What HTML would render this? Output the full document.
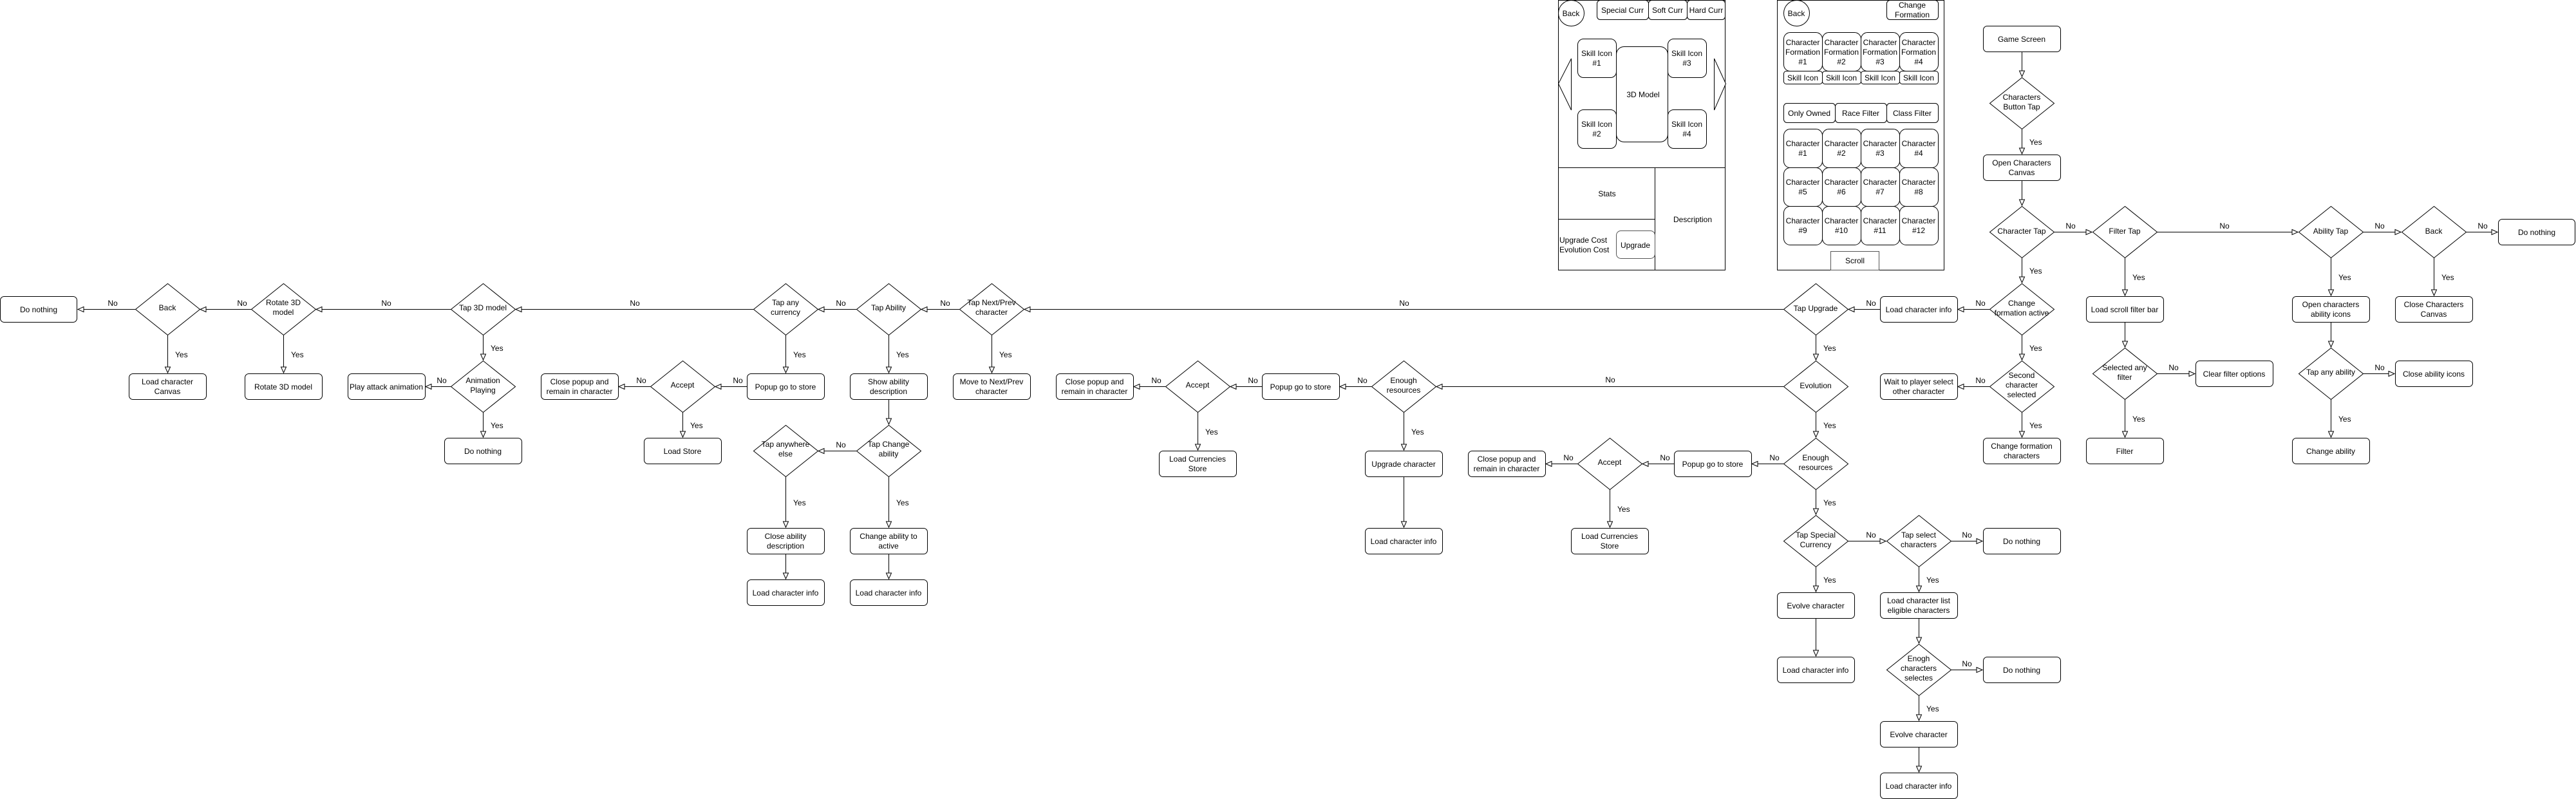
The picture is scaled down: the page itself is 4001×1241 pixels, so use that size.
<!DOCTYPE html>
<html><head><meta charset="utf-8"><style>
html,body{margin:0;padding:0;background:#fff;}
svg{display:block;}
text{font-family:"Liberation Sans",Arial,sans-serif;font-size:12px;fill:#000;text-anchor:middle;}
.l{text-anchor:start;}
.b{fill:#fff;stroke:#000;stroke-width:1;}
.d{fill:#fff;stroke:#000;stroke-width:1;}
.c{stroke:#000;stroke-width:1;fill:none;}
.ca{stroke:#000;stroke-width:1;fill:none;marker-end:url(#a);}
</style></head><body>
<svg width="4001" height="1241" viewBox="0 0 4001 1241" xmlns="http://www.w3.org/2000/svg">
<defs><marker id="a" markerWidth="12" markerHeight="12" refX="10" refY="5" orient="auto" markerUnits="userSpaceOnUse"><path d="M1,1 L10,5 L1,9 Z" fill="#fff" stroke="#000" stroke-width="1"/></marker></defs>
<rect width="4001" height="1241" fill="#fff"/>

<!-- LEFT MOCKUP -->
<g>
<rect x="2420.5" y="0.5" width="259" height="419" fill="#fff" stroke="#000"/>
<circle cx="2440.5" cy="20.5" r="20" class="b"/><text x="2440" y="25">Back</text>
<rect x="2480.5" y="0.5" width="80" height="30" rx="5" class="b"/><text x="2520" y="20">Special Curr</text>
<rect x="2560.5" y="0.5" width="60" height="30" rx="5" class="b"/><text x="2590" y="20">Soft Curr</text>
<rect x="2620.5" y="0.5" width="59" height="30" rx="5" class="b"/><text x="2650" y="20">Hard Curr</text>
<rect x="2450.5" y="60.5" width="60" height="60" rx="9" class="b"/><text x="2480" y="87">Skill Icon</text><text x="2480" y="102">#1</text>
<rect x="2450.5" y="170.5" width="60" height="60" rx="9" class="b"/><text x="2480" y="197">Skill Icon</text><text x="2480" y="212">#2</text>
<rect x="2510.5" y="72.5" width="80" height="148" rx="12" class="b"/><text x="2552" y="151">3D Model</text>
<rect x="2590.5" y="60.5" width="60" height="60" rx="9" class="b"/><text x="2620" y="87">Skill Icon</text><text x="2620" y="102">#3</text>
<rect x="2590.5" y="170.5" width="60" height="60" rx="9" class="b"/><text x="2620" y="197">Skill Icon</text><text x="2620" y="212">#4</text>
<path d="M2440.5,91 L2420.5,130 L2440.5,171 Z" class="b"/>
<path d="M2662.5,91 L2680.5,130 L2662.5,171 Z" class="b"/>
<line x1="2420" y1="260.5" x2="2680" y2="260.5" class="c"/>
<line x1="2570.5" y1="260" x2="2570.5" y2="420" class="c"/>
<line x1="2420" y1="340.5" x2="2570" y2="340.5" class="c"/>
<text x="2496" y="305">Stats</text>
<text x="2629" y="345">Description</text>
<text x="2422" y="377" class="l">Upgrade Cost</text>
<text x="2422" y="392" class="l">Evolution Cost</text>
<rect x="2510.5" y="358.5" width="60" height="43" rx="7" fill="#fff" stroke="#555"/><text x="2540" y="385">Upgrade</text>
</g>

<!-- RIGHT MOCKUP -->
<g>
<rect x="2760.5" y="0.5" width="259" height="419" fill="#fff" stroke="#000"/>
<circle cx="2790.5" cy="20.5" r="20" class="b"/><text x="2790" y="25">Back</text>
<rect x="2930.5" y="0.5" width="80" height="30" rx="5" class="b"/><text x="2970" y="12">Change</text><text x="2970" y="27">Formation</text>
<rect x="2770.5" y="50.5" width="60" height="60" rx="10" class="b"/><text x="2800" y="70">Character</text><text x="2800" y="85">Formation</text><text x="2800" y="100">#1</text>
<rect x="2830.5" y="50.5" width="60" height="60" rx="10" class="b"/><text x="2860" y="70">Character</text><text x="2860" y="85">Formation</text><text x="2860" y="100">#2</text>
<rect x="2890.5" y="50.5" width="60" height="60" rx="10" class="b"/><text x="2920" y="70">Character</text><text x="2920" y="85">Formation</text><text x="2920" y="100">#3</text>
<rect x="2950.5" y="50.5" width="60" height="60" rx="10" class="b"/><text x="2980" y="70">Character</text><text x="2980" y="85">Formation</text><text x="2980" y="100">#4</text>
<rect x="2770.5" y="110.5" width="60" height="20" rx="4" class="b"/><text x="2800" y="125">Skill Icon</text>
<rect x="2830.5" y="110.5" width="60" height="20" rx="4" class="b"/><text x="2860" y="125">Skill Icon</text>
<rect x="2890.5" y="110.5" width="60" height="20" rx="4" class="b"/><text x="2920" y="125">Skill Icon</text>
<rect x="2950.5" y="110.5" width="60" height="20" rx="4" class="b"/><text x="2980" y="125">Skill Icon</text>
<rect x="2770.5" y="160.5" width="80" height="30" rx="5" class="b"/><text x="2810" y="180">Only Owned</text>
<rect x="2850.5" y="160.5" width="80" height="30" rx="5" class="b"/><text x="2890" y="180">Race Filter</text>
<rect x="2930.5" y="160.5" width="80" height="30" rx="5" class="b"/><text x="2970" y="180">Class Filter</text>
<rect x="2770.5" y="200.5" width="60" height="60" rx="10" class="b"/><text x="2800" y="227">Character</text><text x="2800" y="242">#1</text>
<rect x="2830.5" y="200.5" width="60" height="60" rx="10" class="b"/><text x="2860" y="227">Character</text><text x="2860" y="242">#2</text>
<rect x="2890.5" y="200.5" width="60" height="60" rx="10" class="b"/><text x="2920" y="227">Character</text><text x="2920" y="242">#3</text>
<rect x="2950.5" y="200.5" width="60" height="60" rx="10" class="b"/><text x="2980" y="227">Character</text><text x="2980" y="242">#4</text>
<rect x="2770.5" y="260.5" width="60" height="60" rx="10" class="b"/><text x="2800" y="287">Character</text><text x="2800" y="302">#5</text>
<rect x="2830.5" y="260.5" width="60" height="60" rx="10" class="b"/><text x="2860" y="287">Character</text><text x="2860" y="302">#6</text>
<rect x="2890.5" y="260.5" width="60" height="60" rx="10" class="b"/><text x="2920" y="287">Character</text><text x="2920" y="302">#7</text>
<rect x="2950.5" y="260.5" width="60" height="60" rx="10" class="b"/><text x="2980" y="287">Character</text><text x="2980" y="302">#8</text>
<rect x="2770.5" y="320.5" width="60" height="60" rx="10" class="b"/><text x="2800" y="347">Character</text><text x="2800" y="362">#9</text>
<rect x="2830.5" y="320.5" width="60" height="60" rx="10" class="b"/><text x="2860" y="347">Character</text><text x="2860" y="362">#10</text>
<rect x="2890.5" y="320.5" width="60" height="60" rx="10" class="b"/><text x="2920" y="347">Character</text><text x="2920" y="362">#11</text>
<rect x="2950.5" y="320.5" width="60" height="60" rx="10" class="b"/><text x="2980" y="347">Character</text><text x="2980" y="362">#12</text>
<rect x="2843.5" y="390.5" width="75" height="29" fill="#fff" stroke="#555"/><text x="2881" y="409">Scroll</text>
</g>

<!-- CONNECTORS -->
<g>
<!-- main row y480 leftwards -->
<line x1="3090" y1="480.5" x2="3041" y2="480.5" class="ca"/>
<line x1="2920" y1="480.5" x2="2871" y2="480.5" class="ca"/>
<line x1="2770" y1="480.5" x2="1591" y2="480.5" class="ca"/>
<line x1="1490" y1="480.5" x2="1431" y2="480.5" class="ca"/>
<line x1="1330" y1="480.5" x2="1271" y2="480.5" class="ca"/>
<line x1="1170" y1="480.5" x2="801" y2="480.5" class="ca"/>
<line x1="700" y1="480.5" x2="491" y2="480.5" class="ca"/>
<line x1="390" y1="480.5" x2="311" y2="480.5" class="ca"/>
<line x1="210" y1="480.5" x2="121" y2="480.5" class="ca"/>
<!-- y600 -->
<line x1="2770" y1="600.5" x2="2231" y2="600.5" class="ca"/>
<line x1="2130" y1="600.5" x2="2081" y2="600.5" class="ca"/>
<line x1="1960" y1="600.5" x2="1911" y2="600.5" class="ca"/>
<line x1="1810" y1="600.5" x2="1761" y2="600.5" class="ca"/>
<line x1="1160" y1="600.5" x2="1111" y2="600.5" class="ca"/>
<line x1="1010" y1="600.5" x2="961" y2="600.5" class="ca"/>
<line x1="700" y1="600.5" x2="661" y2="600.5" class="ca"/>
<line x1="3090" y1="600.5" x2="3041" y2="600.5" class="ca"/>
<!-- y700 / 720 -->
<line x1="1330" y1="700.5" x2="1271" y2="700.5" class="ca"/>
<line x1="2770" y1="720.5" x2="2721" y2="720.5" class="ca"/>
<line x1="2600" y1="720.5" x2="2551" y2="720.5" class="ca"/>
<line x1="2450" y1="720.5" x2="2401" y2="720.5" class="ca"/>
<!-- rightwards -->
<line x1="2870" y1="840.5" x2="2929" y2="840.5" class="ca"/>
<line x1="3030" y1="840.5" x2="3079" y2="840.5" class="ca"/>
<line x1="3030" y1="1040.5" x2="3079" y2="1040.5" class="ca"/>
<line x1="3190" y1="360.5" x2="3249" y2="360.5" class="ca"/>
<line x1="3350" y1="360.5" x2="3569" y2="360.5" class="ca"/>
<line x1="3670" y1="360.5" x2="3729" y2="360.5" class="ca"/>
<line x1="3830" y1="360.5" x2="3879" y2="360.5" class="ca"/>
<line x1="3350" y1="580.5" x2="3409" y2="580.5" class="ca"/>
<line x1="3670" y1="580.5" x2="3719" y2="580.5" class="ca"/>
<!-- verticals -->
<line x1="260.5" y1="520" x2="260.5" y2="579" class="ca"/>
<line x1="440.5" y1="520" x2="440.5" y2="579" class="ca"/>
<line x1="750.5" y1="520" x2="750.5" y2="559" class="ca"/>
<line x1="750.5" y1="640" x2="750.5" y2="679" class="ca"/>
<line x1="1060.5" y1="640" x2="1060.5" y2="679" class="ca"/>
<line x1="1220.5" y1="520" x2="1220.5" y2="579" class="ca"/>
<line x1="1380.5" y1="520" x2="1380.5" y2="579" class="ca"/>
<line x1="1540.5" y1="520" x2="1540.5" y2="579" class="ca"/>
<line x1="1380.5" y1="620" x2="1380.5" y2="659" class="ca"/>
<line x1="1220.5" y1="740" x2="1220.5" y2="819" class="ca"/>
<line x1="1380.5" y1="740" x2="1380.5" y2="819" class="ca"/>
<line x1="1220.5" y1="860" x2="1220.5" y2="899" class="ca"/>
<line x1="1380.5" y1="860" x2="1380.5" y2="899" class="ca"/>
<line x1="1860.5" y1="640" x2="1860.5" y2="699" class="ca"/>
<line x1="2180.5" y1="640" x2="2180.5" y2="699" class="ca"/>
<line x1="2180.5" y1="740" x2="2180.5" y2="819" class="ca"/>
<line x1="2500.5" y1="760" x2="2500.5" y2="819" class="ca"/>
<line x1="2820.5" y1="520" x2="2820.5" y2="559" class="ca"/>
<line x1="2820.5" y1="640" x2="2820.5" y2="679" class="ca"/>
<line x1="2820.5" y1="760" x2="2820.5" y2="799" class="ca"/>
<line x1="2820.5" y1="880" x2="2820.5" y2="919" class="ca"/>
<line x1="2820.5" y1="960" x2="2820.5" y2="1019" class="ca"/>
<line x1="2980.5" y1="880" x2="2980.5" y2="919" class="ca"/>
<line x1="2980.5" y1="960" x2="2980.5" y2="999" class="ca"/>
<line x1="2980.5" y1="1080" x2="2980.5" y2="1119" class="ca"/>
<line x1="2980.5" y1="1160" x2="2980.5" y2="1199" class="ca"/>
<line x1="3140.5" y1="80" x2="3140.5" y2="119" class="ca"/>
<line x1="3140.5" y1="200" x2="3140.5" y2="239" class="ca"/>
<line x1="3140.5" y1="280" x2="3140.5" y2="319" class="ca"/>
<line x1="3140.5" y1="400" x2="3140.5" y2="439" class="ca"/>
<line x1="3140.5" y1="520" x2="3140.5" y2="559" class="ca"/>
<line x1="3140.5" y1="640" x2="3140.5" y2="679" class="ca"/>
<line x1="3300.5" y1="400" x2="3300.5" y2="459" class="ca"/>
<line x1="3300.5" y1="500" x2="3300.5" y2="539" class="ca"/>
<line x1="3300.5" y1="620" x2="3300.5" y2="679" class="ca"/>
<line x1="3620.5" y1="400" x2="3620.5" y2="459" class="ca"/>
<line x1="3620.5" y1="500" x2="3620.5" y2="539" class="ca"/>
<line x1="3620.5" y1="620" x2="3620.5" y2="679" class="ca"/>
<line x1="3780.5" y1="400" x2="3780.5" y2="459" class="ca"/>
</g>

<!-- CONNECTOR LABELS -->
<g>
<text x="175" y="475">No</text><text x="376" y="475">No</text><text x="600" y="475">No</text>
<text x="986" y="475">No</text><text x="1306" y="475">No</text><text x="1468" y="475">No</text>
<text x="2181" y="475">No</text><text x="2906" y="475">No</text><text x="3076" y="475">No</text>
<text x="686" y="595">No</text><text x="996" y="595">No</text><text x="1146" y="595">No</text>
<text x="1796" y="595">No</text><text x="1946" y="595">No</text><text x="2116" y="595">No</text>
<text x="2501" y="594">No</text><text x="3076" y="595">No</text>
<text x="1306" y="695">No</text>
<text x="2436" y="715">No</text><text x="2586" y="715">No</text><text x="2756" y="715">No</text>
<text x="2906" y="835">No</text><text x="3055" y="835">No</text><text x="3055" y="1035">No</text>
<text x="3216" y="355">No</text><text x="3455" y="355">No</text><text x="3696" y="355">No</text><text x="3856" y="355">No</text>
<text x="3376" y="575">No</text><text x="3696" y="575">No</text>

<text class="l" x="272" y="555">Yes</text><text class="l" x="452" y="555">Yes</text>
<text class="l" x="762" y="545">Yes</text><text class="l" x="762" y="665">Yes</text>
<text class="l" x="1072" y="665">Yes</text>
<text class="l" x="1232" y="555">Yes</text><text class="l" x="1392" y="555">Yes</text><text class="l" x="1552" y="555">Yes</text>
<text class="l" x="1232" y="785">Yes</text><text class="l" x="1392" y="785">Yes</text>
<text class="l" x="1872" y="675">Yes</text><text class="l" x="2192" y="675">Yes</text>
<text class="l" x="2512" y="795">Yes</text>
<text class="l" x="2832" y="545">Yes</text><text class="l" x="2832" y="665">Yes</text><text class="l" x="2832" y="785">Yes</text><text class="l" x="2832" y="905">Yes</text>
<text class="l" x="2992" y="905">Yes</text><text class="l" x="2992" y="1105">Yes</text>
<text class="l" x="3152" y="225">Yes</text><text class="l" x="3152" y="425">Yes</text><text class="l" x="3152" y="545">Yes</text><text class="l" x="3152" y="665">Yes</text>
<text class="l" x="3312" y="435">Yes</text><text class="l" x="3312" y="655">Yes</text>
<text class="l" x="3632" y="435">Yes</text><text class="l" x="3632" y="655">Yes</text>
<text class="l" x="3792" y="435">Yes</text>
</g>

<!-- BOXES -->
<g>
<rect x="0.5" y="460.5" width="119" height="40" rx="6" class="b"/><text x="60" y="485">Do nothing</text>
<rect x="200.5" y="580.5" width="120" height="40" rx="6" class="b"/><text x="260" y="597">Load character</text><text x="260" y="612">Canvas</text>
<rect x="380.5" y="580.5" width="120" height="40" rx="6" class="b"/><text x="440" y="605">Rotate 3D model</text>
<rect x="540.5" y="580.5" width="120" height="40" rx="6" class="b"/><text x="600" y="605">Play attack animation</text>
<rect x="690.5" y="680.5" width="120" height="40" rx="6" class="b"/><text x="750" y="705">Do nothing</text>
<rect x="840.5" y="580.5" width="120" height="40" rx="6" class="b"/><text x="900" y="597">Close popup and</text><text x="900" y="612">remain in character</text>
<rect x="1000.5" y="680.5" width="120" height="40" rx="6" class="b"/><text x="1060" y="705">Load Store</text>
<rect x="1160.5" y="580.5" width="120" height="40" rx="6" class="b"/><text x="1220" y="605">Popup go to store</text>
<rect x="1320.5" y="580.5" width="120" height="40" rx="6" class="b"/><text x="1380" y="597">Show ability</text><text x="1380" y="612">description</text>
<rect x="1480.5" y="580.5" width="120" height="40" rx="6" class="b"/><text x="1540" y="597">Move to Next/Prev</text><text x="1540" y="612">character</text>
<rect x="1160.5" y="820.5" width="120" height="40" rx="6" class="b"/><text x="1220" y="837">Close ability</text><text x="1220" y="852">description</text>
<rect x="1160.5" y="900.5" width="120" height="40" rx="6" class="b"/><text x="1220" y="925">Load character info</text>
<rect x="1320.5" y="820.5" width="120" height="40" rx="6" class="b"/><text x="1380" y="837">Change ability to</text><text x="1380" y="852">active</text>
<rect x="1320.5" y="900.5" width="120" height="40" rx="6" class="b"/><text x="1380" y="925">Load character info</text>
<rect x="1640.5" y="580.5" width="120" height="40" rx="6" class="b"/><text x="1700" y="597">Close popup and</text><text x="1700" y="612">remain in character</text>
<rect x="1800.5" y="700.5" width="120" height="40" rx="6" class="b"/><text x="1860" y="717">Load Currencies</text><text x="1860" y="732">Store</text>
<rect x="1960.5" y="580.5" width="120" height="40" rx="6" class="b"/><text x="2020" y="605">Popup go to store</text>
<rect x="2120.5" y="700.5" width="120" height="40" rx="6" class="b"/><text x="2180" y="725">Upgrade character</text>
<rect x="2120.5" y="820.5" width="120" height="40" rx="6" class="b"/><text x="2180" y="845">Load character info</text>
<rect x="2280.5" y="700.5" width="120" height="40" rx="6" class="b"/><text x="2340" y="717">Close popup and</text><text x="2340" y="732">remain in character</text>
<rect x="2440.5" y="820.5" width="120" height="40" rx="6" class="b"/><text x="2500" y="837">Load Currencies</text><text x="2500" y="852">Store</text>
<rect x="2600.5" y="700.5" width="120" height="40" rx="6" class="b"/><text x="2660" y="725">Popup go to store</text>
<rect x="2920.5" y="460.5" width="120" height="40" rx="6" class="b"/><text x="2980" y="485">Load character info</text>
<rect x="2920.5" y="580.5" width="120" height="40" rx="6" class="b"/><text x="2980" y="597">Wait to player select</text><text x="2980" y="612">other character</text>
<rect x="3080.5" y="680.5" width="120" height="40" rx="6" class="b"/><text x="3140" y="697">Change formation</text><text x="3140" y="712">characters</text>
<rect x="3080.5" y="820.5" width="120" height="40" rx="6" class="b"/><text x="3140" y="845">Do nothing</text>
<rect x="2760.5" y="920.5" width="120" height="40" rx="6" class="b"/><text x="2820" y="945">Evolve character</text>
<rect x="2760.5" y="1020.5" width="120" height="40" rx="6" class="b"/><text x="2820" y="1045">Load character info</text>
<rect x="2920.5" y="920.5" width="120" height="40" rx="6" class="b"/><text x="2980" y="937">Load character list</text><text x="2980" y="952">eligible characters</text>
<rect x="3080.5" y="1020.5" width="120" height="40" rx="6" class="b"/><text x="3140" y="1045">Do nothing</text>
<rect x="2920.5" y="1120.5" width="120" height="40" rx="6" class="b"/><text x="2980" y="1145">Evolve character</text>
<rect x="2920.5" y="1200.5" width="120" height="40" rx="6" class="b"/><text x="2980" y="1225">Load character info</text>
<rect x="3080.5" y="40.5" width="120" height="40" rx="6" class="b"/><text x="3140" y="65">Game Screen</text>
<rect x="3080.5" y="240.5" width="120" height="40" rx="6" class="b"/><text x="3140" y="257">Open Characters</text><text x="3140" y="272">Canvas</text>
<rect x="3240.5" y="460.5" width="120" height="40" rx="6" class="b"/><text x="3300" y="485">Load scroll filter bar</text>
<rect x="3410.5" y="560.5" width="120" height="40" rx="6" class="b"/><text x="3470" y="585">Clear filter options</text>
<rect x="3240.5" y="680.5" width="120" height="40" rx="6" class="b"/><text x="3300" y="705">Filter</text>
<rect x="3560.5" y="460.5" width="120" height="40" rx="6" class="b"/><text x="3620" y="477">Open characters</text><text x="3620" y="492">ability icons</text>
<rect x="3720.5" y="560.5" width="120" height="40" rx="6" class="b"/><text x="3780" y="585">Close ability icons</text>
<rect x="3560.5" y="680.5" width="120" height="40" rx="6" class="b"/><text x="3620" y="705">Change ability</text>
<rect x="3720.5" y="460.5" width="120" height="40" rx="6" class="b"/><text x="3780" y="477">Close Characters</text><text x="3780" y="492">Canvas</text>
<rect x="3880.5" y="340.5" width="119" height="40" rx="6" class="b"/><text x="3940" y="365">Do nothing</text>
</g>

<!-- DIAMONDS -->
<g>
<path class="d" d="M260.5,440.5 L310.5,480.5 L260.5,520.5 L210.5,480.5 Z"/><text x="260" y="482">Back</text>
<path class="d" d="M440.5,440.5 L490.5,480.5 L440.5,520.5 L390.5,480.5 Z"/><text x="440" y="474">Rotate 3D</text><text x="440" y="489">model</text>
<path class="d" d="M750.5,440.5 L800.5,480.5 L750.5,520.5 L700.5,480.5 Z"/><text x="750" y="482">Tap 3D model</text>
<path class="d" d="M750.5,560.5 L800.5,600.5 L750.5,640.5 L700.5,600.5 Z"/><text x="750" y="595">Animation</text><text x="750" y="610">Playing</text>
<path class="d" d="M1060.5,560.5 L1110.5,600.5 L1060.5,640.5 L1010.5,600.5 Z"/><text x="1060" y="602">Accept</text>
<path class="d" d="M1220.5,440.5 L1270.5,480.5 L1220.5,520.5 L1170.5,480.5 Z"/><text x="1220" y="474">Tap any</text><text x="1220" y="489">currency</text>
<path class="d" d="M1380.5,440.5 L1430.5,480.5 L1380.5,520.5 L1330.5,480.5 Z"/><text x="1380" y="482">Tap Ability</text>
<path class="d" d="M1540.5,440.5 L1590.5,480.5 L1540.5,520.5 L1490.5,480.5 Z"/><text x="1540" y="474">Tap Next/Prev</text><text x="1540" y="489">character</text>
<path class="d" d="M1220.5,660.5 L1270.5,700.5 L1220.5,740.5 L1170.5,700.5 Z"/><text x="1220" y="694">Tap anywhere</text><text x="1220" y="709">else</text>
<path class="d" d="M1380.5,660.5 L1430.5,700.5 L1380.5,740.5 L1330.5,700.5 Z"/><text x="1380" y="694">Tap Change</text><text x="1380" y="709">ability</text>
<path class="d" d="M1860.5,560.5 L1910.5,600.5 L1860.5,640.5 L1810.5,600.5 Z"/><text x="1860" y="602">Accept</text>
<path class="d" d="M2180.5,560.5 L2230.5,600.5 L2180.5,640.5 L2130.5,600.5 Z"/><text x="2180" y="595">Enough</text><text x="2180" y="610">resources</text>
<path class="d" d="M2500.5,680.5 L2550.5,720.5 L2500.5,760.5 L2450.5,720.5 Z"/><text x="2500" y="722">Accept</text>
<path class="d" d="M2820.5,440.5 L2870.5,480.5 L2820.5,520.5 L2770.5,480.5 Z"/><text x="2820" y="483">Tap Upgrade</text>
<path class="d" d="M2820.5,560.5 L2870.5,600.5 L2820.5,640.5 L2770.5,600.5 Z"/><text x="2820" y="603">Evolution</text>
<path class="d" d="M2820.5,680.5 L2870.5,720.5 L2820.5,760.5 L2770.5,720.5 Z"/><text x="2820" y="715">Enough</text><text x="2820" y="730">resources</text>
<path class="d" d="M2820.5,800.5 L2870.5,840.5 L2820.5,880.5 L2770.5,840.5 Z"/><text x="2820" y="835">Tap Special</text><text x="2820" y="850">Currency</text>
<path class="d" d="M2980.5,800.5 L3030.5,840.5 L2980.5,880.5 L2930.5,840.5 Z"/><text x="2980" y="835">Tap select</text><text x="2980" y="850">characters</text>
<path class="d" d="M2980.5,1000.5 L3030.5,1040.5 L2980.5,1080.5 L2930.5,1040.5 Z"/><text x="2980" y="1027">Enogh</text><text x="2980" y="1042">characters</text><text x="2980" y="1057">selectes</text>
<path class="d" d="M3140.5,440.5 L3190.5,480.5 L3140.5,520.5 L3090.5,480.5 Z"/><text x="3140" y="475">Change</text><text x="3140" y="490">formation active</text>
<path class="d" d="M3140.5,560.5 L3190.5,600.5 L3140.5,640.5 L3090.5,600.5 Z"/><text x="3140" y="587">Second</text><text x="3140" y="602">character</text><text x="3140" y="617">selected</text>
<path class="d" d="M3140.5,120.5 L3190.5,160.5 L3140.5,200.5 L3090.5,160.5 Z"/><text x="3140" y="155">Characters</text><text x="3140" y="170">Button Tap</text>
<path class="d" d="M3140.5,320.5 L3190.5,360.5 L3140.5,400.5 L3090.5,360.5 Z"/><text x="3140" y="363">Character Tap</text>
<path class="d" d="M3300.5,320.5 L3350.5,360.5 L3300.5,400.5 L3250.5,360.5 Z"/><text x="3300" y="363">Filter Tap</text>
<path class="d" d="M3620.5,320.5 L3670.5,360.5 L3620.5,400.5 L3570.5,360.5 Z"/><text x="3620" y="363">Ability Tap</text>
<path class="d" d="M3780.5,320.5 L3830.5,360.5 L3780.5,400.5 L3730.5,360.5 Z"/><text x="3780" y="363">Back</text>
<path class="d" d="M3300.5,540.5 L3350.5,580.5 L3300.5,620.5 L3250.5,580.5 Z"/><text x="3300" y="575">Selected any</text><text x="3300" y="590">filter</text>
<path class="d" d="M3620.5,540.5 L3670.5,580.5 L3620.5,620.5 L3570.5,580.5 Z"/><text x="3620" y="582">Tap any ability</text>
</g>
</svg>
</body></html>
